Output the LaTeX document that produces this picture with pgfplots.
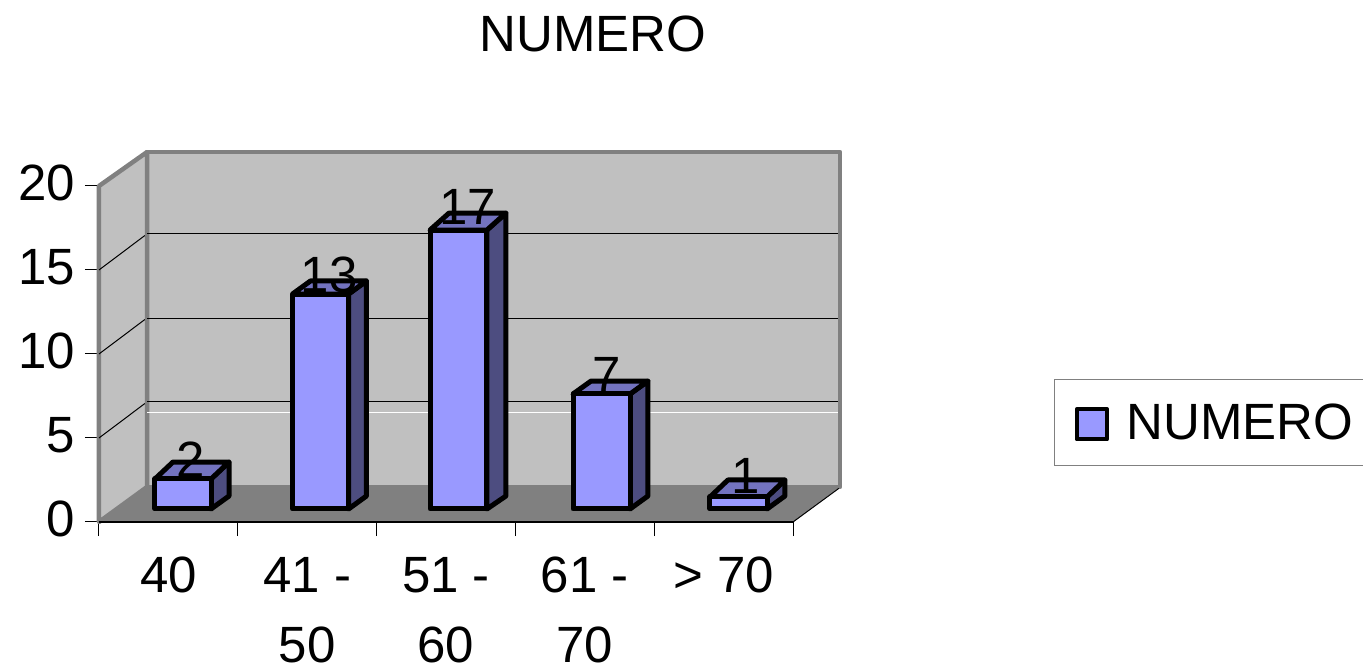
\documentclass[border=0pt]{standalone}
\usepackage{fontspec}
\setmainfont{Liberation Sans}
\usepackage{pgfplots}
\pgfplotsset{compat=1.18}
\definecolor{wall}{HTML}{C0C0C0}
\definecolor{floorc}{HTML}{808080}
\definecolor{front}{HTML}{9999FF}
\definecolor{topc}{HTML}{7373BF}
\definecolor{sidec}{HTML}{4D4D80}
\newcommand{\chartfont}{\fontsize{51}{70}\selectfont}
\begin{document}
\begin{tikzpicture}
\useasboundingbox (0,0) rectangle (1363pt,669pt);
\begin{axis}[
    at={(99pt,147pt)}, anchor=south west,
    scale only axis, width=694pt, height=336pt,
    clip=false,
    xmin=0, xmax=5, ymin=0, ymax=20,
    axis x line*=bottom, axis y line*=left,
    axis line style={draw=none},
    /pgf/number format/assume math mode=true,
    xtick={0,1,2,3,4,5}, xticklabels={},
    ytick={0,5,10,15,20},
    tick align=outside,
    major tick length=14pt,
    tick style={black, line width=1pt},
    yticklabel style={font=\chartfont, anchor=east, inner sep=0pt, xshift=-10pt, yshift=3pt},
    extra x ticks={0.5,1.5,2.5,3.5,4.5},
    extra x tick labels={40,{41 -\\50},{51 -\\60},{61 -\\70},{> 70}},
    extra x tick style={major tick length=0pt, tick style={draw=none},
        xticklabel style={font=\chartfont, align=center, anchor=north, inner sep=0pt, yshift=-35pt}},
    title={NUMERO},
    title style={font=\chartfont, at={(axis description cs:0.712,1.381)}, anchor=base, inner sep=0pt},
    legend style={at={(1.376,0.1667)}, anchor=south west, draw=gray, line width=1pt,
        inner xsep=14pt, inner ysep=24pt, font=\chartfont, nodes={inner sep=0pt}},
    every axis plot/.append style={forget plot},
    barline/.style={draw=black, line width=5pt, line join=round},
]
% walls and floor
\addplot[fill=wall, draw=floorc, line width=4.5pt, line join=round] coordinates {(0.346,2.083)(5.339,2.083)(5.339,22.02)(0.346,22.02)} --cycle;
\addplot[fill=wall, draw=floorc, line width=4.5pt, line join=round] coordinates {(0,0)(0,20)(0.346,22.02)(0.346,2.083)} --cycle;
\addplot[fill=floorc, draw=none] coordinates {(0,0)(5,0)(5.339,2.083)(0.346,2.083)} --cycle;
% grid lines
\addplot[black, line width=1pt] coordinates {(0,5)(0.33,7.05)};
\addplot[black, line width=1pt] coordinates {(0,10)(0.33,12.05)};
\addplot[black, line width=1pt] coordinates {(0,15)(0.33,17.05)};
\addplot[black, line width=1pt] coordinates {(0.346,7.2)(5.325,7.2)};
\addplot[black, line width=1pt] coordinates {(0.346,12.1)(5.325,12.1)};
\addplot[black, line width=1pt] coordinates {(0.346,17.2)(5.325,17.2)};
\addplot[white, line width=1pt] coordinates {(0.346,6.5)(5.325,6.5)};
% floor edges
\addplot[black, line width=1.5pt] coordinates {(0,0)(5,0)};
\addplot[black, line width=1pt] coordinates {(5,0)(5.33,2.0)};
% bar 40
\addplot[barline, fill=sidec] coordinates {(0.807,0.774)(0.937,1.548)(0.937,3.57)(0.807,2.56)} --cycle;
\addplot[barline, fill=topc] coordinates {(0.403,2.56)(0.807,2.56)(0.937,3.57)(0.533,3.57)} --cycle;
\addplot[barline, fill=front] coordinates {(0.403,0.774)(0.807,0.774)(0.807,2.56)(0.403,2.56)} --cycle;
% bar 41-50
\addplot[barline, fill=sidec] coordinates {(1.798,0.774)(1.927,1.548)(1.927,14.35)(1.798,13.57)} --cycle;
\addplot[barline, fill=topc] coordinates {(1.394,13.57)(1.798,13.57)(1.927,14.35)(1.524,14.35)} --cycle;
\addplot[barline, fill=front] coordinates {(1.394,0.774)(1.798,0.774)(1.798,13.57)(1.394,13.57)} --cycle;
% bar 51-60
\addplot[barline, fill=sidec] coordinates {(2.795,0.774)(2.932,1.548)(2.932,18.39)(2.795,17.38)} --cycle;
\addplot[barline, fill=topc] coordinates {(2.385,17.38)(2.795,17.38)(2.932,18.39)(2.522,18.39)} --cycle;
\addplot[barline, fill=front] coordinates {(2.385,0.774)(2.795,0.774)(2.795,17.38)(2.385,17.38)} --cycle;
% bar 61-70
\addplot[barline, fill=sidec] coordinates {(3.826,0.774)(3.955,1.548)(3.955,8.39)(3.826,7.62)} --cycle;
\addplot[barline, fill=topc] coordinates {(3.415,7.62)(3.826,7.62)(3.955,8.39)(3.545,8.39)} --cycle;
\addplot[barline, fill=front] coordinates {(3.415,0.774)(3.826,0.774)(3.826,7.62)(3.415,7.62)} --cycle;
% bar > 70
\addplot[barline, fill=sidec] coordinates {(4.813,0.774)(4.942,1.548)(4.942,2.50)(4.813,1.49)} --cycle;
\addplot[barline, fill=topc] coordinates {(4.402,1.49)(4.813,1.49)(4.942,2.50)(4.531,2.50)} --cycle;
\addplot[barline, fill=front] coordinates {(4.402,0.774)(4.813,0.774)(4.813,1.49)(4.402,1.49)} --cycle;
% values
\addplot[draw=none, mark=none, point meta=y,
    nodes near coords,
    every node near coord/.append style={font=\chartfont, anchor=center, inner sep=0pt, xshift=22pt, yshift=29pt}]
    coordinates {(0.5,2)(1.5,13)(2.5,17)(3.5,7)(4.5,1)};
\addlegendimage{legend image code/.code={
    \path (0,0) (57pt,0);
    \draw[draw=black, line width=4.5pt, fill=front, line join=round] (8pt,-17pt) rectangle (38pt,13pt);
}}
\addlegendentry{NUMERO}
\end{axis}
\end{tikzpicture}
\end{document}
